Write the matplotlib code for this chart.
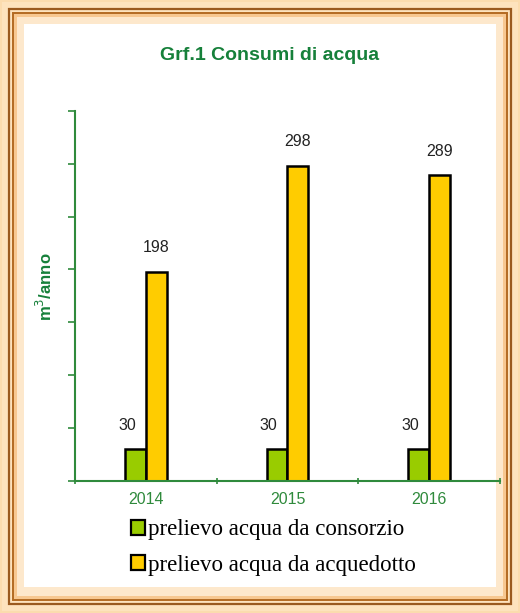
import matplotlib
matplotlib.use("Agg")
import matplotlib.pyplot as plt
from matplotlib.patches import Rectangle
import numpy as np

# data
years = ["2014", "2015", "2016"]
consorzio = [30, 30, 30]
acquedotto = [198, 298, 289]
series_names = ["prelievo acqua da consorzio", "prelievo acqua da acquedotto"]

GREEN = "#99cc00"
YELLOW = "#ffcc00"
AXIS_GREEN = "#2f8a3c"
TITLE_GREEN = "#16803a"

W, H = 520, 613
fig = plt.figure(figsize=(W / 100, H / 100), dpi=100)
fig.patch.set_facecolor("#fbdcae")


def px_rect(x, y, w, h, **kw):
    """Rectangle given in pixel coords (origin top-left), drawn under the axes."""
    r = Rectangle((x / W, 1 - (y + h) / H), w / W, h / H,
                  transform=fig.transFigure, zorder=-10, **kw)
    fig.patches.append(r)
    return r


# picture frame
px_rect(2, 2, W - 4, H - 4, facecolor="#fde3bd", edgecolor="none")
px_rect(9, 9, W - 18, H - 18, facecolor="none", edgecolor="#9a5a1e", linewidth=1.6)
px_rect(13, 13, W - 26, H - 26, facecolor="#f7c891", edgecolor="#b36b22", linewidth=1.4)
px_rect(17, 17, W - 34, H - 34, facecolor="#fde8cc", edgecolor="none")
px_rect(24, 24, W - 48, H - 50, facecolor="white", edgecolor="none")

ax = fig.add_axes([75 / W, 1 - 481 / H, 425 / W, (481 - 110.7) / H])
ax.set_facecolor("none")

x = np.arange(len(years))
bw = 0.148
b1 = ax.bar(x - bw / 2, consorzio, bw, color=GREEN, edgecolor="black", linewidth=1.8)
b2 = ax.bar(x + bw / 2, acquedotto, bw, color=YELLOW, edgecolor="black", linewidth=1.8)

ax.set_xlim(-0.5, 2.5)
ax.set_ylim(0, 350)
ax.set_yticks(np.arange(0, 351, 50))
ax.set_yticklabels([])
ax.set_xticks(x)
ax.set_xticklabels(years, color=AXIS_GREEN, fontsize=11.5, family="Liberation Sans")
ax.set_xticks(np.arange(-0.5, 2.6, 1), minor=True)
ax.tick_params(axis="x", which="major", length=0, pad=8)
ax.tick_params(axis="x", which="minor", length=5, width=1.2, color=AXIS_GREEN, direction="inout")
ax.tick_params(axis="y", length=5, width=1.2, color=AXIS_GREEN, direction="out")

for side in ("top", "right"):
    ax.spines[side].set_visible(False)
for side in ("left", "bottom"):
    ax.spines[side].set_color(AXIS_GREEN)
    ax.spines[side].set_linewidth(1.5)

for rect, v in zip(b1, consorzio):
    ax.annotate(str(v), (rect.get_x() + rect.get_width() / 2, v), xytext=(-6, 12),
                textcoords="offset points", ha="center", va="bottom",
                fontsize=11.5, color="#222222", family="Liberation Sans")
for rect, v in zip(b2, acquedotto):
    ax.annotate(str(v), (rect.get_x() + rect.get_width() / 2, v), xytext=(0, 12),
                textcoords="offset points", ha="center", va="bottom",
                fontsize=11.5, color="#222222", family="Liberation Sans")

fig.text(270 / W, 1 - 56 / H, "Grf.1 Consumi di acqua", ha="center", va="center",
         fontsize=14, fontweight="bold", color=TITLE_GREEN, family="Liberation Sans")
fig.text(45 / W, 1 - 287 / H, "m$^3$/anno", ha="center", va="center", rotation=90,
         fontsize=12, fontweight="bold", color=TITLE_GREEN, family="Liberation Sans")

# legend below the axis
leg = fig.legend([b1[0], b2[0]], series_names, loc="upper left",
                 bbox_to_anchor=(120 / W, 1 - 508 / H), frameon=False,
                 prop={"family": "Liberation Serif", "size": 16.5},
                 handlelength=0.6, handleheight=0.6, handletextpad=0.12,
                 labelspacing=0.62, borderpad=0)
for h in leg.legend_handles:
    h.set_linewidth(1.6)

fig.savefig("out.png", dpi=100)
